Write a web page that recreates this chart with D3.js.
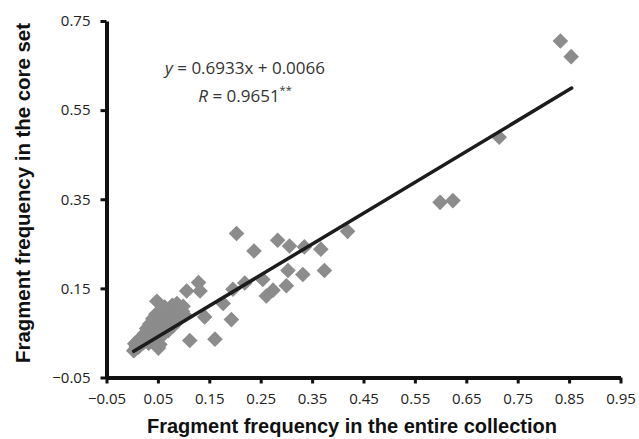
<!DOCTYPE html>
<html>
<head>
<meta charset="utf-8">
<script src="https://cdn.jsdelivr.net/npm/d3@7"></script>
<style>
  body { margin: 0; background: #fff; }
  #chart { width: 639px; height: 439px; }
</style>
</head>
<body>
<div id="chart"></div>
<script>
// x = fragment frequency in the entire collection, y = frequency in the core set
const pointsX = [
    0.003, 0.006, 0.008, 0.005, 0.010, 0.012, 0.015, 0.014, 0.018, 0.020,
    0.022, 0.025, 0.026, 0.028, 0.030, 0.032, 0.034, 0.036, 0.038, 0.040,
    0.042, 0.045, 0.046, 0.048, 0.050, 0.052, 0.055, 0.056, 0.058, 0.060,
    0.063, 0.065, 0.067, 0.070, 0.072, 0.075, 0.078, 0.080, 0.083, 0.087,
    0.088, 0.092, 0.095, 0.098, 0.102,
    0.048, 0.054, 0.051, 0.106, 0.099, 0.112, 0.129, 0.132, 0.141, 0.161,
    0.177, 0.193, 0.196, 0.203, 0.219, 0.237, 0.254, 0.261, 0.274, 0.283,
    0.300, 0.303, 0.306, 0.332, 0.335, 0.367, 0.374, 0.419, 0.599, 0.624,
    0.714, 0.833, 0.854
];
const pointsY = [
    0.010, 0.014, 0.020, 0.026, 0.030, 0.018, 0.024, 0.036, 0.030, 0.042,
    0.028, 0.050, 0.036, 0.060, 0.044, 0.027, 0.070, 0.052, 0.040, 0.082,
    0.062, 0.048, 0.092, 0.072, 0.036, 0.056, 0.100, 0.080, 0.064, 0.046,
    0.108, 0.088, 0.070, 0.055, 0.100, 0.080, 0.112, 0.066, 0.092, 0.116,
    0.076, 0.104, 0.086, 0.098, 0.090,
    0.121, 0.024, 0.016, 0.144, 0.110, 0.033, 0.163, 0.144, 0.086, 0.036,
    0.116, 0.080, 0.148, 0.273, 0.162, 0.234, 0.170, 0.133, 0.146, 0.258,
    0.156, 0.190, 0.245, 0.181, 0.243, 0.238, 0.190, 0.278, 0.343, 0.347,
    0.489, 0.705, 0.670
];

// fitted line y = 0.6933x + 0.0066, drawn over the data range
const slope = 0.6933;
const intercept = 0.0066;
const fitRange = [0.003, 0.855];

const xTicks = [-0.05, 0.05, 0.15, 0.25, 0.35, 0.45, 0.55, 0.65, 0.75, 0.85, 0.95];
const yTicks = [-0.05, 0.15, 0.35, 0.55, 0.75];

const width = 639;
const height = 439;

const svg = d3.select("#chart")
    .append("svg")
    .attr("width", width)
    .attr("height", height);

const x = d3.scaleLinear().domain([-0.05, 0.95]).range([106.5, 620.5]);
const y = d3.scaleLinear().domain([-0.05, 0.75]).range([377.5, 21]);

const tickFont = "'Open Sans', 'DejaVu Sans', sans-serif";
const titleFont = "'Liberation Sans', Arial, sans-serif";

// Points
const pts = d3.range(pointsX.length).map(i => ({ x: pointsX[i], y: pointsY[i] }));
svg.append("g")
    .selectAll("path")
    .data(pts)
    .join("path")
    .attr("d", d3.symbol(d3.symbolSquare, 122)())
    .attr("transform", d => `translate(${x(d.x)},${y(d.y)}) rotate(45)`)
    .attr("fill", "#8c8c8c");

// Fit line
svg.append("line")
    .attr("x1", x(fitRange[0]))
    .attr("y1", y(slope * fitRange[0] + intercept))
    .attr("x2", x(fitRange[1]))
    .attr("y2", y(slope * fitRange[1] + intercept))
    .attr("stroke", "#1c1c1c")
    .attr("stroke-width", 3.5)
    .attr("stroke-linecap", "round");

// Axes
const fmt = d => d3.format(".2f")(d).replace("-", "\u2212");

const xAxis = svg.append("g")
    .attr("transform", `translate(0,${y(-0.05)})`)
    .call(d3.axisBottom(x).tickValues(xTicks).tickSize(6).tickSizeOuter(0).tickFormat(fmt));

const yAxis = svg.append("g")
    .attr("transform", `translate(${x(-0.05)},0)`)
    .call(d3.axisLeft(y).tickValues(yTicks).tickSize(6).tickSizeOuter(0).tickFormat(fmt));

[xAxis, yAxis].forEach(ax => {
    ax.select(".domain").attr("stroke", "#111").attr("stroke-width", 4);
    ax.selectAll(".tick line").attr("stroke", "#111").attr("stroke-width", 3);
    ax.selectAll(".tick text")
        .attr("fill", "#222")
        .style("font-family", tickFont)
        .style("font-size", "15px");
});
xAxis.selectAll(".tick text").attr("dy", "1.15em");
yAxis.selectAll(".tick text").attr("x", -16);

// Axis titles (condensed bold, squeezed to the measured width)
svg.append("text")
    .attr("x", 147)
    .attr("y", 433)
    .attr("textLength", 410)
    .attr("lengthAdjust", "spacingAndGlyphs")
    .style("font-family", titleFont)
    .style("font-weight", "bold")
    .style("font-size", "20px")
    .attr("fill", "#111")
    .text("Fragment frequency in the entire collection");

svg.append("text")
    .attr("transform", "translate(30,363) rotate(-90)")
    .attr("textLength", 340)
    .attr("lengthAdjust", "spacingAndGlyphs")
    .style("font-family", titleFont)
    .style("font-weight", "bold")
    .style("font-size", "20px")
    .attr("fill", "#111")
    .text("Fragment frequency in the core set");

// Equation
const eq = svg.append("text")
    .attr("x", 245)
    .attr("y", 74)
    .attr("text-anchor", "middle")
    .style("font-family", tickFont)
    .style("font-size", "17px")
    .attr("fill", "#333");
eq.append("tspan").style("font-style", "italic").text("y");
eq.append("tspan").text(" = 0.6933x + 0.0066");

const rt = svg.append("text")
    .attr("x", 245)
    .attr("y", 102)
    .attr("text-anchor", "middle")
    .style("font-family", tickFont)
    .style("font-size", "17px")
    .attr("fill", "#333");
rt.append("tspan").style("font-style", "italic").text("R");
rt.append("tspan").text(" = 0.9651");
rt.append("tspan").attr("dy", -8).style("font-size", "11px").text("**");
</script>
</body>
</html>
